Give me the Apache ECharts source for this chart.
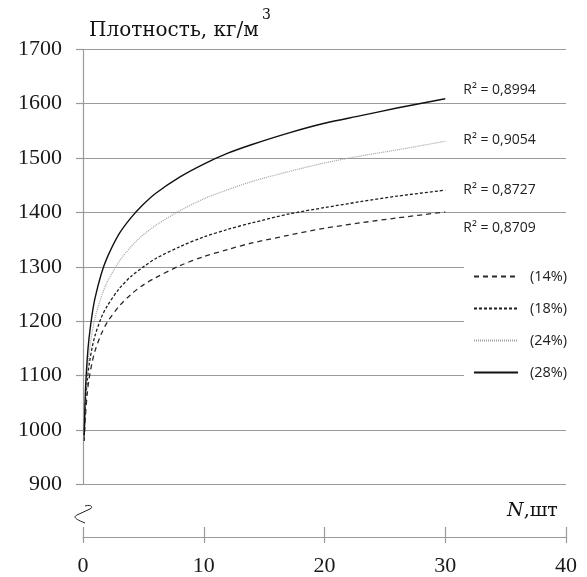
<!DOCTYPE html>
<html>
<head>
<meta charset="utf-8">
<script src="https://cdn.jsdelivr.net/npm/echarts@6/dist/echarts.min.js"></script>
<style>
html,body{margin:0;padding:0;background:#fff;}
#chart{width:587px;height:577px;}
</style>
</head>
<body>
<div id="chart"></div>
<script>
// N values (шт) at which the curves were read
const nValues = [0.1, 0.2, 0.35, 0.5, 0.75, 1, 1.5, 2, 3, 4, 5, 6, 8, 10, 12, 14, 17, 20, 23, 26, 30];
// Density (кг/м3)
const dens14 = [980, 1025, 1067, 1094, 1124, 1146, 1176, 1198, 1228, 1250, 1267, 1280, 1302, 1319, 1332, 1344, 1358, 1371, 1381, 1390, 1401];
const dens18 = [990, 1047, 1091, 1119, 1151, 1174, 1206, 1228, 1260, 1283, 1300, 1315, 1337, 1355, 1369, 1381, 1397, 1409, 1420, 1430, 1441];
const dens24 = [987, 1053, 1106, 1140, 1179, 1206, 1244, 1272, 1310, 1338, 1359, 1376, 1403, 1425, 1442, 1457, 1475, 1491, 1504, 1515, 1531];
const dens28 = [990, 1071, 1131, 1169, 1212, 1243, 1286, 1317, 1361, 1391, 1415, 1435, 1465, 1489, 1509, 1525, 1546, 1564, 1578, 1592, 1609];
const seriesNames = ['(14%)', '(18%)', '(24%)', '(28%)'];
const r2Labels = ['R² = 0,8709', 'R² = 0,8727', 'R² = 0,9054', 'R² = 0,8994'];
const yTicks = {min: 900, max: 1700, interval: 100};
const xTicks = {min: 0, max: 40, interval: 10};

const serif = 'Liberation Serif';
const titleSerif = 'DejaVu Serif';
const sans = 'Open Sans';
const gridColor = '#9a9a9a';

function pairs(vals) { return nValues.map((n, i) => [n, vals[i]]); }

const styles = [
  {color: '#2a2a2a', width: 1.3, type: [5, 4]},
  {color: '#1e1e1e', width: 1.3, type: [3, 2]},
  {color: '#a0a0a0', width: 1.2, type: [1, 1]},
  {color: '#111111', width: 1.4, type: 'solid'}
];
const labelOffsets = [[10, 16], [10, 0], [10, -1], [10, -9]];
const allVals = [dens14, dens18, dens24, dens28];

const chart = echarts.init(document.getElementById('chart'));
chart.setOption({
  animation: false,
  backgroundColor: '#fff',
  grid: [
    {left: 83, right: 21, top: 49.3, bottom: 92.5},
    {left: 83, right: 21, top: 531.7, bottom: 35.3}
  ],
  xAxis: [
    {gridIndex: 0, type: 'value', min: xTicks.min, max: xTicks.max, interval: xTicks.interval, show: false},
    {gridIndex: 1, type: 'value', position: 'bottom', min: xTicks.min, max: xTicks.max, interval: xTicks.interval,
      axisLine: {show: true, lineStyle: {color: gridColor, width: 1.2}},
      axisTick: {show: true, length: 6, lineStyle: {color: gridColor, width: 1.2}},
      axisLabel: {fontFamily: serif, fontSize: 22, color: '#1a1a1a', margin: 18},
      splitLine: {show: false}},
    {gridIndex: 1, type: 'value', position: 'bottom', min: xTicks.min, max: xTicks.max, interval: xTicks.interval,
      axisLine: {show: false},
      axisTick: {show: true, inside: true, length: 10, lineStyle: {color: gridColor, width: 1.2}},
      axisLabel: {show: false},
      splitLine: {show: false}}
  ],
  yAxis: [
    {gridIndex: 0, type: 'value', min: yTicks.min, max: yTicks.max, interval: yTicks.interval,
      axisLine: {show: true, lineStyle: {color: gridColor, width: 1.2}},
      axisTick: {show: true, length: 7, lineStyle: {color: gridColor, width: 1.2}},
      axisLabel: {fontFamily: serif, fontSize: 22, color: '#1a1a1a', margin: 21,
        formatter: v => String(v)},
      splitLine: {show: true, lineStyle: {color: gridColor, width: 1.2}}},
    {gridIndex: 1, type: 'value', show: false, min: 0, max: 1}
  ],
  legend: {
    orient: 'vertical', left: 464, top: 264,
    backgroundColor: '#fff',
    padding: [5, 5, 6, 9],
    itemWidth: 44, itemHeight: 14, itemGap: 17,
    itemStyle: {opacity: 0},
    data: seriesNames,
    textStyle: {fontFamily: sans, fontSize: 14.5, color: '#222', padding: [0, 0, 0, 7], lineHeight: 14}
  },
  series: seriesNames.map((name, i) => ({
    name: name,
    type: 'line',
    xAxisIndex: 0, yAxisIndex: 0,
    data: pairs(allVals[i]),
    smooth: 0.3,
    symbol: 'none',
    z: 3 + i,
    lineStyle: styles[i],
    itemStyle: {color: styles[i].color},
    endLabel: {show: true, formatter: r2Labels[i], fontFamily: sans, fontSize: 14, color: '#222',
      offset: labelOffsets[i]}
  })),
  graphic: [
    {type: 'text', left: 89, top: 21, style: {text: 'Плотность, кг/м', font: '20px "' + titleSerif + '"', fill: '#111'}},
    {type: 'text', left: 262, top: 8, style: {text: '3', font: '14px "' + titleSerif + '"', fill: '#111'}},
    {type: 'text', left: 507, top: 502, style: {
      text: '{i|N}{r|,шт}',
      rich: {
        i: {fontFamily: titleSerif, fontStyle: 'italic', fontSize: 19, fill: '#111', color: '#111'},
        r: {fontFamily: titleSerif, fontSize: 19, fill: '#111', color: '#111'}
      }}},
    {type: 'bezierCurve', shape: {x1: 85, y1: 506, cpx1: 90, cpy1: 504.5, cpx2: 93, cpy2: 506, x2: 91, y2: 508.5},
      style: {stroke: '#222', lineWidth: 1, fill: null}},
    {type: 'line', shape: {x1: 91, y1: 508.5, x2: 77, y2: 515},
      style: {stroke: '#222', lineWidth: 1}},
    {type: 'bezierCurve', shape: {x1: 77, y1: 515, cpx1: 73, cpy1: 517, cpx2: 75, cpy2: 519, x2: 85, y2: 523},
      style: {stroke: '#222', lineWidth: 1, fill: null}}
  ]
});
</script>
</body>
</html>
